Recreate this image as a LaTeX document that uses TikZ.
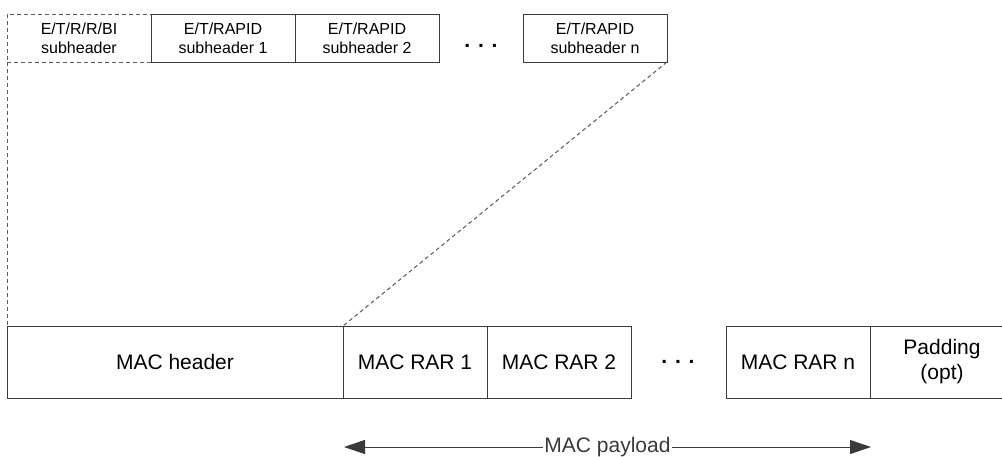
\documentclass[tikz,border=0pt]{standalone}
\usepackage{fontspec}
\setmainfont{Liberation Sans}
\usetikzlibrary{positioning,arrows.meta}

\definecolor{lineGray}{HTML}{3A3A3A}
\definecolor{dashGray}{HTML}{5A5A5A}

\tikzstyle{subNode} = [rectangle, minimum width=144pt, minimum height=48pt, inner sep=0pt, outer sep=0pt, text centered, align=center, draw=lineGray, line width=1pt, font=\fontsize{16}{19}\selectfont]
\tikzstyle{pduNode} = [rectangle, minimum width=144pt, minimum height=72pt, inner sep=0pt, outer sep=0pt, text centered, align=center, draw=lineGray, line width=1pt, font=\fontsize{21}{25}\selectfont]
\tikzstyle{dashLine} = [draw=dashGray, line width=1pt, dash pattern=on 4pt off 3pt]
\tikzstyle{dotNode} = [inner sep=0pt, font=\fontsize{21}{25}\selectfont\bfseries]
\tikzstyle{arrow} = [lineGray, line width=1pt, {Triangle[length=21pt,width=14pt]}-{Triangle[length=21pt,width=14pt]}]

\begin{document}
\begin{tikzpicture}[x=1pt, y=-1pt]
    \useasboundingbox (0,0) rectangle (1002,456);

    % subheaders
    \node (biSub)[subNode, dashLine] at (79,38) {E/T/R/R/BI\\subheader};
    \node (rapidSubA)[subNode, right=0pt of biSub] {E/T/RAPID\\subheader 1};
    \node (rapidSubB)[subNode, right=0pt of rapidSubA] {E/T/RAPID\\subheader 2};
    \node (rapidSubN)[subNode, right=84pt of rapidSubB] {E/T/RAPID\\subheader n};
    \node (subDots)[dotNode] at (481,46) {. . .};

    % MAC PDU
    \node (macHeader)[pduNode, minimum width=336pt] at (175,362) {MAC header};
    \node (rarA)[pduNode, right=0pt of macHeader] {MAC RAR 1};
    \node (rarB)[pduNode, right=0pt of rarA] {MAC RAR 2};
    \node (rarN)[pduNode, right=95pt of rarB] {MAC RAR n};
    \node (padding)[pduNode, right=0pt of rarN] {Padding\\(opt)};
    \node (rarDots)[dotNode] at (678,362) {. . .};

    \draw [dashLine] (biSub.south west) -- (macHeader.north west);
    \draw [dashLine] (rapidSubN.south east) -- (macHeader.north east);

    \coordinate (payStart) at (344,447);
    \coordinate (payEnd) at (871,447);
    \draw [arrow] (payStart) -- node[fill=white, inner sep=1pt, font=\fontsize{21}{25}\selectfont] (payLabel) {MAC payload} (payEnd);

\end{tikzpicture}
\end{document}
